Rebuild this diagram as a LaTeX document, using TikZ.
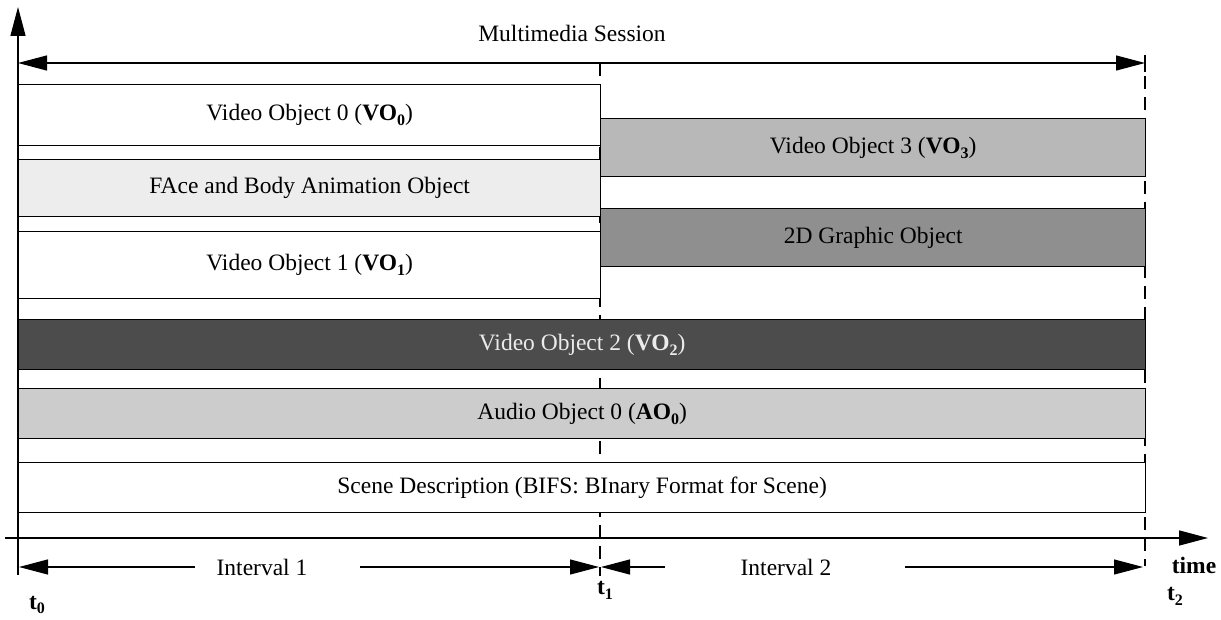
\documentclass[tikz,border=0pt]{standalone}
\usepackage{fontspec}
\setmainfont{Liberation Serif}
\usetikzlibrary{arrows.meta}
\newcommand{\lsub}[1]{\raisebox{-0.45ex}{\fontsize{16}{16}\selectfont #1}}
\definecolor{fbacol}{gray}{0.93}
\definecolor{vothree}{gray}{0.72}
\definecolor{gtwod}{gray}{0.56}
\definecolor{votwo}{gray}{0.30}
\definecolor{aocol}{gray}{0.80}
\definecolor{votxt}{gray}{0.92}
\begin{document}
\begin{tikzpicture}[x=1pt,y=-1pt,
  txt/.style={font=\fontsize{23.5}{28}\selectfont, inner sep=0pt},
  lbl/.style={font=\fontsize{23.5}{28}\selectfont\bfseries, inner sep=0pt},
  obj/.style={draw, line width=1.3pt, anchor=north west, inner sep=0pt,
    font=\fontsize{23.5}{28}\selectfont},
  axis/.style={line width=1.4pt},
  tip/.style={-{Triangle[length=29pt,width=15pt]}},
  dtip/.style={{Triangle[length=29pt,width=15pt]}-{Triangle[length=29pt,width=15pt]}},
  guide/.style={line width=1.1pt, dash pattern=on 13pt off 8pt}]
\useasboundingbox (0,0) rectangle (1221,620);

% guide lines
\coordinate (g1a) at (600,63);
\coordinate (g1b) at (600,576);
\coordinate (g2a) at (1145,55);
\coordinate (g2b) at (1145,566);
\draw[guide] (g1a) -- (g1b);
\draw[guide] (g2a) -- (g2b);
\draw[line width=1.1pt] (1145,55) -- (1145,72);

% objects
\node[obj, fill=white, minimum width=582pt, minimum height=61pt] (vo0) at (18,84) {Video Object 0 (\textbf{VO\lsub{0}})};
\node[obj, fill=fbacol, minimum width=582pt, minimum height=57pt] (fba) at (18,159) {FAce and Body Animation Object};
\node[obj, fill=white, minimum width=582pt, minimum height=67pt] (vo1) at (18,231) {Video Object 1 (\textbf{VO\lsub{1}})};
\node[obj, fill=vothree, minimum width=545pt, minimum height=58pt] (vo3) at (600,118) {Video Object 3 (\textbf{VO\lsub{3}})};
\node[obj, fill=gtwod, minimum width=545pt, minimum height=58pt] (g2d) at (600,208) {2D Graphic Object};
\node[obj, fill=votwo, text=votxt, minimum width=1127pt, minimum height=50pt] (vo2) at (18,319) {Video Object 2 (\textbf{VO\lsub{2}})};
\node[obj, fill=aocol, minimum width=1127pt, minimum height=50pt] (ao0) at (18,388) {Audio Object 0 (\textbf{AO\lsub{0}})};
\node[obj, fill=white, minimum width=1127pt, minimum height=50pt] (scene) at (18,462) {Scene Description (BIFS: BInary Format for Scene)};

% axes
\coordinate (ya) at (18,575);
\coordinate (yb) at (18,7);
\draw[axis, tip] (ya) -- (yb);
\coordinate (xa) at (5,538);
\coordinate (xb) at (1208,538);
\draw[axis, tip] (xa) -- (xb);

% session arrow
\node[txt] (sess) at (572,33) {Multimedia Session};
\coordinate (sa) at (18,63);
\coordinate (sb) at (1145,63);
\draw[line width=1.2pt, dtip] (sa) -- (sb);

% intervals
\coordinate (i1a) at (19,567);
\coordinate (i1b) at (195,567);
\coordinate (i1c) at (360,567);
\coordinate (i1d) at (599,567);
\draw[line width=1.2pt, {Triangle[length=29pt,width=15pt]}-] (i1a) -- (i1b);
\draw[line width=1.2pt, tip] (i1c) -- (i1d);
\node[txt] (int1) at (262,567) {Interval 1};
\coordinate (i2a) at (601,567);
\coordinate (i2b) at (665,567);
\coordinate (i2c) at (905,567);
\coordinate (i2d) at (1143,567);
\draw[line width=1.2pt, {Triangle[length=29pt,width=15pt]}-] (i2a) -- (i2b);
\draw[line width=1.2pt, tip] (i2c) -- (i2d);
\node[txt] (int2) at (786,567) {Interval 2};

% labels
\node[lbl] (t0) at (37,605) {t\lsub{0}};
\node[lbl] (t1) at (605,590) {t\lsub{1}};
\node[lbl] (t2) at (1175,596) {t\lsub{2}};
\node[lbl] (time) at (1194,565) {time};
\end{tikzpicture}
\end{document}
